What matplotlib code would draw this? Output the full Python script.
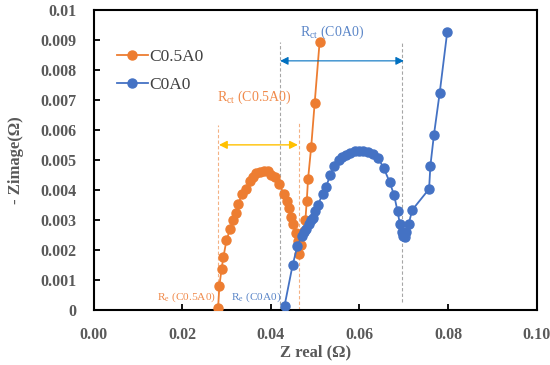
import matplotlib
matplotlib.use("Agg")
import matplotlib.pyplot as plt

# C0.5A0 (orange)
c05_x = [0.0281, 0.0284, 0.0289, 0.0293, 0.0300, 0.0308, 0.0315, 0.0321, 0.0327,
         0.0335, 0.0343, 0.0352, 0.0359, 0.0367, 0.0375, 0.0384, 0.0394, 0.0401,
         0.0409, 0.0418, 0.0430, 0.0436, 0.0441, 0.0445, 0.0450, 0.0456, 0.0462,
         0.0466, 0.0464, 0.0469, 0.0474, 0.0478, 0.0481, 0.0484, 0.0491, 0.0499,
         0.0510]
c05_y = [0.00005, 0.00081, 0.00137, 0.00176, 0.00232, 0.00269, 0.00300, 0.00322,
         0.00353, 0.00387, 0.00403, 0.00428, 0.00444, 0.00456, 0.00461, 0.00464,
         0.00463, 0.00450, 0.00444, 0.00420, 0.00386, 0.00362, 0.00338, 0.00311,
         0.00287, 0.00255, 0.00230, 0.00215, 0.00186, 0.00216, 0.00262, 0.00300,
         0.00362, 0.00436, 0.00542, 0.00691, 0.00892]

# C0A0 (blue)
c0_x = [0.0431, 0.0449, 0.0460, 0.0470, 0.0475, 0.0480, 0.0485, 0.0490, 0.0495,
        0.0500, 0.0506, 0.0517, 0.0525, 0.0534, 0.0543, 0.0554, 0.0561, 0.0570,
        0.0579, 0.0589, 0.0599, 0.0608, 0.0619, 0.0631, 0.0642, 0.0655, 0.0668,
        0.0678, 0.0686, 0.0691, 0.0695, 0.0698, 0.0702, 0.0706, 0.0711, 0.0719,
        0.0757, 0.0760, 0.0768, 0.0781, 0.0798]
c0_y = [0.00014, 0.00148, 0.00213, 0.00247, 0.00261, 0.00270, 0.00287, 0.00298,
        0.00306, 0.00328, 0.00350, 0.00386, 0.00411, 0.00450, 0.00480, 0.00500,
        0.00511, 0.00517, 0.00522, 0.00528, 0.00528, 0.00528, 0.00526, 0.00520,
        0.00506, 0.00472, 0.00426, 0.00383, 0.00328, 0.00287, 0.00261, 0.00245,
        0.00242, 0.00258, 0.00287, 0.00333, 0.00403, 0.00481, 0.00584, 0.00724,
        0.00927]

xticks = [0.00, 0.02, 0.04, 0.06, 0.08, 0.10]
yticks = [0, 0.001, 0.002, 0.003, 0.004, 0.005, 0.006, 0.007, 0.008, 0.009, 0.01]
ytick_labels = ['0', '0.001', '0.002', '0.003', '0.004', '0.005', '0.006',
                '0.007', '0.008', '0.009', '0.01']

ORANGE = '#ED7D31'
BLUE = '#4472C4'
GRAY = '#595959'

plt.rcParams['font.family'] = ['Liberation Serif', 'DejaVu Serif']
plt.rcParams['mathtext.fontset'] = 'custom'
plt.rcParams['mathtext.rm'] = 'Liberation Serif'

fig = plt.figure(figsize=(5.5, 3.65), dpi=100)
ax = fig.add_axes([0.170, 0.151, 0.806, 0.822])

ax.plot(c05_x, c05_y, '-o', color=ORANGE, lw=1.3, ms=6.5, label='C0.5A0', zorder=3)
ax.plot(c0_x, c0_y, '-o', color=BLUE, lw=1.3, ms=6.5, label='C0A0', zorder=3)

# guide lines
ax.plot([0.0421, 0.0421], [0, 0.00893], ls=(0, (3, 2)), color='#a6a6a6', lw=0.8, zorder=1)
ax.plot([0.0697, 0.0697], [0.00025, 0.00893], ls=(0, (3, 2)), color='#a6a6a6', lw=0.8, zorder=1)
ax.plot([0.0281, 0.0281], [0, 0.00617], ls=(0, (3, 2)), color='#f4b183', lw=0.8, zorder=1)
ax.plot([0.0463, 0.0463], [0, 0.00623], ls=(0, (3, 2)), color='#f4b183', lw=0.8, zorder=1)

# arrows
ax.annotate('', xy=(0.0421, 0.0083), xytext=(0.0700, 0.0083),
            arrowprops=dict(arrowstyle='<|-|>', color='#0070C0', lw=0.8,
                            mutation_scale=12, shrinkA=0, shrinkB=0))
ax.annotate('', xy=(0.0283, 0.0055), xytext=(0.0461, 0.0055),
            arrowprops=dict(arrowstyle='<|-|>', color='#FFC000', lw=1.0,
                            mutation_scale=12, shrinkA=0, shrinkB=0))

ax.text(0.0537, 0.00925, r'R$_{\rm ct}$ (C0A0)', color='#5B86C8', fontsize=10,
        ha='center', va='center')
ax.text(0.0363, 0.00710, r'R$_{\rm ct}$ (C0.5A0)', color='#F08A4B', fontsize=10,
        ha='center', va='center')
ax.text(0.0276, 0.00043, r'R$_{\rm e}$ (C0.5A0)', color='#F08A4B', fontsize=8.2,
        ha='right', va='center')
ax.text(0.0425, 0.00043, r'R$_{\rm e}$ (C0A0)', color='#5B86C8', fontsize=8.2,
        ha='right', va='center')

ax.set_xlim(0, 0.10)
ax.set_ylim(0, 0.01)
ax.set_xticks(xticks)
ax.set_xticklabels(['%.2f' % v for v in xticks])
ax.set_yticks(yticks)
ax.set_yticklabels(ytick_labels)
ax.tick_params(direction='in', length=4, width=1.3, colors='black',
               labelcolor=GRAY, labelsize=11.5)
ax.tick_params(axis='y', pad=12)
ax.tick_params(axis='x', pad=12)
for lab in ax.get_xticklabels() + ax.get_yticklabels():
    lab.set_fontweight('bold')
for s in ax.spines.values():
    s.set_linewidth(1.5)

ax.set_xlabel('Z real (\u03a9)', fontsize=12, fontweight='bold', color=GRAY, labelpad=1)
ax.set_ylabel('- Zimage(\u03a9)', fontsize=12, fontweight='bold', color=GRAY, labelpad=12)

leg = ax.legend(loc='upper left', bbox_to_anchor=(0.038, 0.893), frameon=False,
                fontsize=12.5, labelspacing=0.7, handlelength=1.75, handletextpad=0.1,
                borderaxespad=0)
for t in leg.get_texts():
    t.set_color('#404040')

fig.savefig('out.png', dpi=100)
